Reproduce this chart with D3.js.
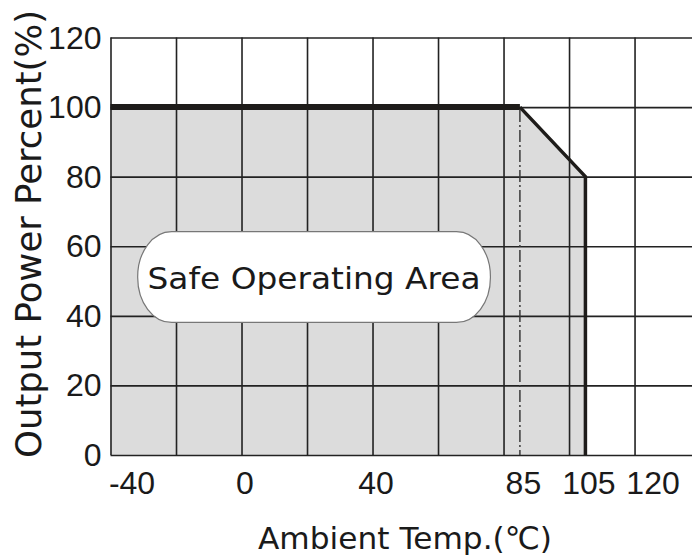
<!DOCTYPE html>
<html>
<head>
<meta charset="utf-8">
<script src="https://cdn.jsdelivr.net/npm/d3@7"></script>
<style>
  body { margin: 0; background: #fff; }
  svg { display: block; }
  text { font-family: "DejaVu Sans", sans-serif; fill: #1a1a1a; }
</style>
</head>
<body>
<div class="chart"></div>
<script>
// derating curve (temperature in C, output power in %)
const curveTemp = [-40, 85, 105, 105];
const curvePower = [100, 100, 80, 0];
const dashTemp = 85;

const gridX = [-40, -20, 0, 20, 40, 60, 80, 100, 120];
const gridY = [0, 20, 40, 60, 80, 100, 120];
const xTickLabels = [-40, 0, 40, 85, 105, 120];
const yTickLabels = [0, 20, 40, 60, 80, 100, 120];

const xTitle = "Ambient Temp.(\u2103)";
const yTitle = "Output Power Percent(%)";
const areaLabel = "Safe Operating Area";

const W = 692, H = 557;
const digitFont = "'Liberation Sans', Arial, sans-serif";

const svg = d3.select(".chart").append("svg")
    .attr("width", W)
    .attr("height", H);

svg.append("rect").attr("width", W).attr("height", H).attr("fill", "#fff");

// scales: the grid runs off the right edge of the picture
let x = d3.scaleLinear().domain([-40, 138]).range([110.5, 693.5]);
let y = d3.scaleLinear().domain([0, 120]).range([455, 37.5]);

const pts = curveTemp.map((t, i) => [t, curvePower[i]]);
const line = d3.line().x(d => x(d[0])).y(d => y(d[1]));

// shaded safe area
svg.append("path")
    .attr("d", line([[-40, 0]].concat(pts)) + "Z")
    .attr("fill", "#dcdcdc");

// vertical grid lines
svg.append("g")
    .attr("class", "grid")
    .attr("transform", "translate(0," + y(0) + ")")
    .call(d3.axisBottom(x).tickValues(gridX).tickSize(-(y(0) - y(120))).tickFormat(""))
    .call(g => g.select(".domain").remove())
    .selectAll("line")
    .attr("stroke", "#222")
    .attr("stroke-width", 1.6);

// horizontal grid lines
svg.append("g")
    .attr("class", "grid")
    .attr("transform", "translate(" + x(-40) + ",0)")
    .call(d3.axisLeft(y).tickValues(gridY).tickSize(-(W - x(-40))).tickFormat(""))
    .call(g => g.select(".domain").remove())
    .selectAll("line")
    .attr("stroke", "#222")
    .attr("stroke-width", 1.6);

// dash-dot line at the derating start
svg.append("line")
    .attr("x1", x(dashTemp)).attr("x2", x(dashTemp))
    .attr("y1", y(100) + 3).attr("y2", y(0))
    .attr("stroke", "#3a3a3a")
    .attr("stroke-width", 1.5)
    .attr("stroke-dasharray", "12,3,2,3");

// derating curve: thick flat part, thinner slope and drop
svg.append("path")
    .attr("d", line(pts.slice(0, 2)))
    .attr("fill", "none")
    .attr("stroke", "#1e1c1a")
    .attr("stroke-width", 6);

svg.append("path")
    .attr("d", line(pts.slice(1)))
    .attr("fill", "none")
    .attr("stroke", "#1e1c1a")
    .attr("stroke-width", 3.5);

// label box
const boxL = x(-31.7), boxR = x(76), boxT = y(64.2), boxB = y(38.1);
svg.append("rect")
    .attr("x", boxL).attr("y", boxT)
    .attr("width", boxR - boxL).attr("height", boxB - boxT)
    .attr("rx", 34).attr("ry", 45)
    .attr("fill", "#fff")
    .attr("stroke", "#777")
    .attr("stroke-width", 1.2);

svg.append("text")
    .attr("x", (boxL + boxR) / 2)
    .attr("y", boxB - 33)
    .attr("text-anchor", "middle")
    .attr("textLength", 333)
    .attr("lengthAdjust", "spacingAndGlyphs")
    .style("font-size", "31px")
    .text(areaLabel);

// x tick labels
svg.append("g")
    .attr("transform", "translate(0," + y(0) + ")")
    .call(d3.axisBottom(x).tickValues(xTickLabels).tickSize(0).tickPadding(16).tickFormat(d => String(d)))
    .call(g => g.select(".domain").remove())
    .selectAll("text")
    .attr("fill", "#1a1a1a")
    .style("font-family", digitFont)
    .style("font-size", "32px")
    .attr("dx", d => d === -40 ? 21 : d === 120 ? 18 : 3);

// y tick labels
svg.append("g")
    .attr("transform", "translate(" + x(-40) + ",0)")
    .call(d3.axisLeft(y).tickValues(yTickLabels).tickSize(0).tickPadding(9).tickFormat(d => String(d)))
    .call(g => g.select(".domain").remove())
    .selectAll("text")
    .attr("fill", "#1a1a1a")
    .style("font-family", digitFont)
    .style("font-size", "32px")
    .attr("dy", "0.33em");

// axis titles
svg.append("text")
    .attr("x", 405)
    .attr("y", 549)
    .attr("text-anchor", "middle")
    .attr("textLength", 294)
    .attr("lengthAdjust", "spacingAndGlyphs")
    .style("font-size", "31px")
    .text(xTitle);

svg.append("text")
    .attr("transform", "translate(41,234) rotate(-90)")
    .attr("text-anchor", "middle")
    .attr("textLength", 448)
    .attr("lengthAdjust", "spacingAndGlyphs")
    .style("font-size", "35px")
    .text(yTitle);
</script>
</body>
</html>
